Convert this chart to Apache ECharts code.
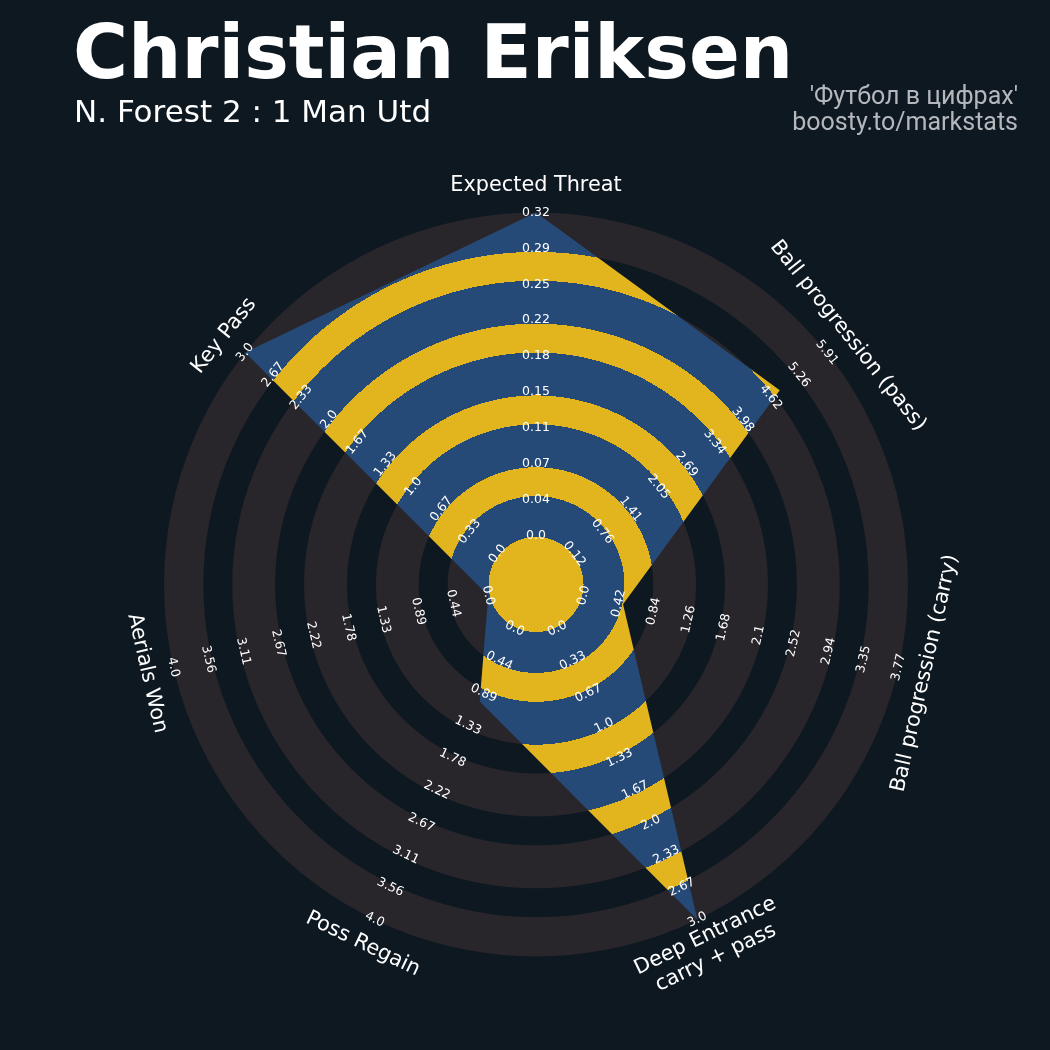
<!DOCTYPE html>
<html><head><meta charset="utf-8">
<script src="https://cdn.jsdelivr.net/npm/echarts@6/dist/echarts.min.js"></script>
<style>html,body{margin:0;padding:0;background:#0e1821;} #c{width:1050px;height:1050px;}</style>
</head><body><div id="c"></div>
<script>
// ---- data (clockwise from top, as in the reference) ----
const params = ['Expected Threat', 'Ball progression (pass)', 'Ball progression (carry)', 'Deep Entrance\ncarry + pass', 'Poss Regain', 'Aerials Won', 'Key Pass'];
const mins = [0, 0.12, 0, 0, 0, 0, 0];
const maxs = [0.32, 5.91, 3.77, 3.0, 4.0, 4.0, 3.0];
const values = [0.32, 4.83, 0.47, 3.0, 1.0, 0.0, 3.0];
const tickLabels = [
  ['0.0', '0.04', '0.07', '0.11', '0.15', '0.18', '0.22', '0.25', '0.29', '0.32'],
  ['0.12', '0.76', '1.41', '2.05', '2.69', '3.34', '3.98', '4.62', '5.26', '5.91'],
  ['0.0', '0.42', '0.84', '1.26', '1.68', '2.1', '2.52', '2.94', '3.35', '3.77'],
  ['0.0', '0.33', '0.67', '1.0', '1.33', '1.67', '2.0', '2.33', '2.67', '3.0'],
  ['0.0', '0.44', '0.89', '1.33', '1.78', '2.22', '2.67', '3.11', '3.56', '4.0'],
  ['0.0', '0.44', '0.89', '1.33', '1.78', '2.22', '2.67', '3.11', '3.56', '4.0'],
  ['0.0', '0.33', '0.67', '1.0', '1.33', '1.67', '2.0', '2.33', '2.67', '3.0']
];
const titleText = 'Christian Eriksen';
const subtitleText = 'N. Forest 2 : 1 Man Utd';
const creditText = "'Футбол в цифрах'\nboosty.to/markstats";

// ---- layout / style ----
const BG = '#0e1821', GREY = '#28252b', BLUE = '#264a78', YEL = '#e2b51e';
const CX = 536, CY = 584.5, R0 = 49, R = 372, NSPLIT = 9;
const EXT = 3.5;      // wide bands overlap their neighbours by this much
const CENTER_R = 47.5;
const n = params.length;
// ECharts radar goes counter-clockwise: reorder
const order = [0];
for (let i = n - 1; i >= 1; i--) order.push(i);

function tangentRot(pos) {
  let r = (pos * 360 / n);
  r = ((r % 360) + 360) % 360;
  if (r > 180) r -= 360;
  if (r > 90) r -= 180;
  if (r <= -90) r += 180;
  return r;
}

function makeIndicators(withLabels) {
  return order.map((src, pos) => {
    const mn = mins[src], mx = maxs[src], labs = tickLabels[src];
    const rot = tangentRot(pos);
    const ind = { name: params[src], min: mn, max: mx };
    if (withLabels) {
      ind.nameRotate = rot;
      ind.nameGap = 27;
      ind.nameTextStyle = { align: 'center', verticalAlign: 'middle' };
      ind.axisLabel = {
        show: true, rotate: rot, margin: 0, align: 'center', verticalAlign: 'middle',
        showMinLabel: true, showMaxLabel: true, hideOverlap: false,
        color: '#ffffff', fontFamily: 'DejaVu Sans', fontSize: 12.5,
        formatter: function (v) {
          const k = Math.round((v - mn) / (mx - mn) * NSPLIT);
          return labs[Math.max(0, Math.min(NSPLIT, k))];
        }
      };
    }
    return ind;
  });
}

// concentric stripes inside the player polygon
const w = (R - R0) / NSPLIT;
const stops = [{ offset: 0, color: YEL }, { offset: CENTER_R / R, color: YEL }];
for (let k = 0; k < NSPLIT; k++) {
  const c = k % 2 === 0 ? BLUE : YEL;
  let a = R0 + k * w, b = R0 + (k + 1) * w;
  if (k % 2 === 0) { a = (k === 0) ? CENTER_R : a - EXT; b = (k === NSPLIT - 1) ? R + 0.5 : b + EXT; }
  else { a = a + EXT; b = b - EXT; }
  stops.push({ offset: a / R, color: c }, { offset: Math.min(1, b / R), color: c });
}
// thick circle lines widen the grey rings in the background
const lineColors = [];
for (let i = 0; i <= NSPLIT; i++) lineColors.push(i === 0 || i === NSPLIT ? 'rgba(0,0,0,0)' : GREY);

const chart = echarts.init(document.getElementById('c'), null, { renderer: 'canvas' });
chart.setOption({
  backgroundColor: BG,
  animation: false,
  title: [
    { text: titleText, left: 73, top: 21, padding: 0,
      textStyle: { color: '#ffffff', fontFamily: 'DejaVu Sans', fontWeight: 'bold', fontSize: 75 } },
    { text: subtitleText, left: 74, top: 98, padding: 0,
      textStyle: { color: '#ffffff', fontFamily: 'DejaVu Sans', fontWeight: 'normal', fontSize: 31 } },
    { text: creditText, left: 1018, top: 85, padding: 0, textAlign: 'right',
      textStyle: { color: '#b4b8bc', fontFamily: 'Roboto', fontWeight: 'normal', fontSize: 25, lineHeight: 26, align: 'right' } }
  ],
  radar: [
    { // background rings
      z: 0, center: [CX, CY], radius: [R0, R], shape: 'circle', splitNumber: NSPLIT, startAngle: 90,
      indicator: makeIndicators(false),
      axisName: { show: false },
      splitArea: { show: true, areaStyle: { color: [GREY, 'rgba(0,0,0,0)'] } },
      splitLine: { show: true, lineStyle: { color: lineColors, width: EXT * 2 } },
      axisLine: { show: false }, axisTick: { show: false }, axisLabel: { show: false }
    },
    { // labels and names on top
      z: 10, center: [CX, CY], radius: [R0, R], shape: 'circle', splitNumber: NSPLIT, startAngle: 90,
      indicator: makeIndicators(true),
      axisName: { show: true, color: '#ffffff', fontFamily: 'DejaVu Sans', fontSize: 20.8, align: 'center', verticalAlign: 'middle', lineHeight: 24 },
      axisNameGap: 27,
      splitArea: { show: false }, splitLine: { show: false }, axisLine: { show: false }, axisTick: { show: false },
      axisLabel: { show: true, color: '#ffffff', fontFamily: 'DejaVu Sans', fontSize: 12.5 }
    }
  ],
  series: [{
    type: 'radar', radarIndex: 0, z: 2, silent: true, symbol: 'none',
    lineStyle: { width: 0, opacity: 0 },
    areaStyle: { opacity: 1, color: { type: 'radial', x: CX, y: CY, r: R, global: true, colorStops: stops } },
    data: [{ value: order.map(i => values[i]) }]
  }]
});
</script></body></html>
